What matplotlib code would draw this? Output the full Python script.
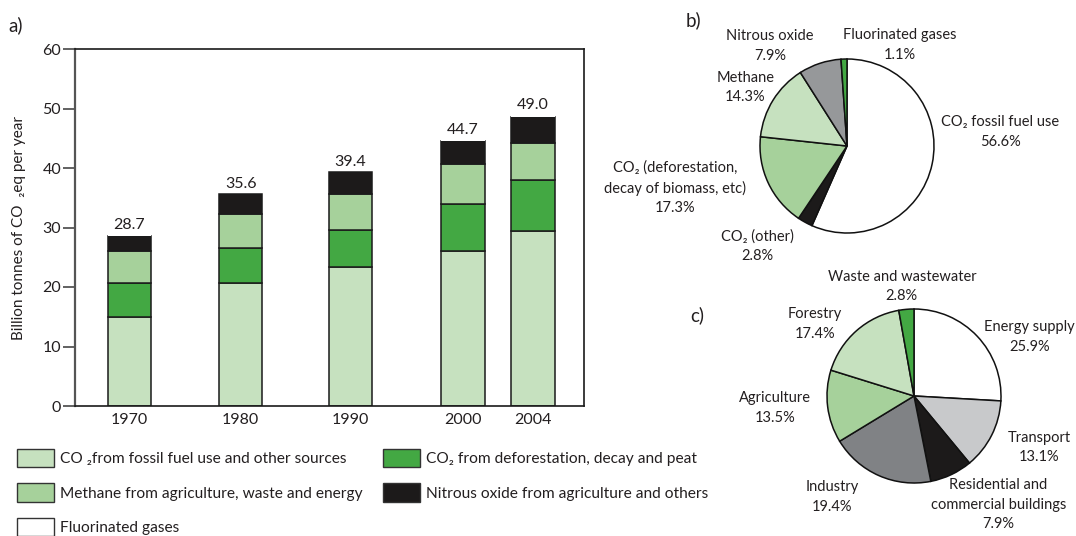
import matplotlib
matplotlib.use("Agg")
import matplotlib.pyplot as plt
from matplotlib.patches import Patch
import numpy as np

plt.rcParams['font.family'] = ['Lato', 'DejaVu Sans']
TXT = '#231f20'

# ---- a) emissions by gas, stacked ----
years = ['1970', '1980', '1990', '2000', '2004']
co2_fossil = [14.9, 20.6, 23.3, 26.1, 29.4]
co2_deforest = [5.7, 5.9, 6.2, 7.9, 8.5]
methane = [5.4, 5.7, 6.2, 6.6, 6.3]
nitrous = [2.5, 3.4, 3.7, 3.9, 4.4]
fluorinated = [0.2, 0.0, 0.0, 0.2, 0.4]

# ---- b) share of gases in 2004 ----
gas_labels = ['CO\u2082 fossil fuel use', 'CO\u2082 (other)',
              'CO\u2082 (deforestation,\ndecay of biomass, etc)',
              'Methane', 'Nitrous oxide', 'Fluorinated gases']
gas_share = [56.6, 2.8, 17.3, 14.3, 7.9, 1.1]

# ---- c) share of sectors in 2004 ----
sector_labels = ['Energy supply', 'Transport',
                 'Residential and\ncommercial buildings', 'Industry',
                 'Agriculture', 'Forestry', 'Waste and wastewater']
sector_share = [25.9, 13.1, 7.9, 19.4, 13.5, 17.4, 2.8]

C_FOSSIL = '#c6e1bf'
C_DEFOR = '#43a843'
C_METH = '#a6d19b'
C_N2O = '#1c1a1a'
C_GREY = '#96989a'
C_LGREY = '#c8c9cb'
C_DGREY = '#808285'

W, H = 1076, 536
fig = plt.figure(figsize=(W / 100, H / 100), dpi=100)


def box(x0, y0, x1, y1):
    return [x0 / W, 1 - y1 / H, (x1 - x0) / W, (y1 - y0) / H]


# bar panel
ax = fig.add_axes(box(75, 49, 584, 406))
bar_pos = np.array([0, 1, 1.99, 3.0, 3.63])
series = [co2_fossil, co2_deforest, methane, nitrous]
colors = [C_FOSSIL, C_DEFOR, C_METH, C_N2O]
bottom = np.zeros(len(years))
for vals, col in zip(series, colors):
    ax.bar(bar_pos, vals, width=0.39, bottom=bottom, color=col,
           edgecolor='#1a1a1a', linewidth=1.1, zorder=2)
    bottom += np.array(vals)
ax.bar(bar_pos, fluorinated, width=0.39, bottom=bottom, color='white',
       edgecolor='none', zorder=2)
totals = bottom + np.array(fluorinated)
for x, t in zip(bar_pos, totals):
    ax.annotate(f'{t:.1f}', (x, t), xytext=(0, 2), textcoords='offset points',
                ha='center', va='bottom', fontsize=11.5, color=TXT)

ax.set_xlim(-0.49, 4.09)
ax.set_ylim(0, 60)
ax.set_yticks(range(0, 61, 10))
ax.set_xticks(bar_pos)
ax.set_xticklabels(years)
ax.tick_params(axis='y', length=9, width=1.3, color='#555555', pad=1,
               labelsize=11.5, labelcolor=TXT)
ax.tick_params(axis='x', length=0, pad=5, labelsize=11.5, labelcolor=TXT)
for s in ['top', 'right', 'bottom']:
    ax.spines[s].set_linewidth(1.2)
    ax.spines[s].set_color('#1a1a1a')
ax.spines['left'].set_linewidth(1.6)
ax.spines['left'].set_color('#555555')
ax.set_ylabel('Billion tonnes of CO  \u2082eq per year', fontsize=11,
              color=TXT, labelpad=12)
fig.text(8 / W, 1 - 25 / H, 'a)', fontsize=13.5, color=TXT, va='center')

# legend, two columns
leg_kw = dict(frameon=False, fontsize=11.2, handlelength=2.35,
              handleheight=1.45, handletextpad=0.4, labelspacing=1.03,
              borderpad=0, borderaxespad=0, loc='upper left')
hp = dict(edgecolor='#333333', linewidth=1.0)
col1 = [Patch(facecolor=C_FOSSIL, **hp), Patch(facecolor=C_METH, **hp),
        Patch(facecolor='white', **hp)]
col1_lab = ['CO \u2082from fossil fuel use and other sources',
            'Methane from agriculture, waste and energy',
            'Fluorinated gases']
col2 = [Patch(facecolor=C_DEFOR, **hp), Patch(facecolor=C_N2O, **hp)]
col2_lab = ['CO\u2082 from deforestation, decay and peat',
            'Nitrous oxide from agriculture and others']
for hs, ls, x0 in [(col1, col1_lab, 17), (col2, col2_lab, 383)]:
    lg = fig.legend(hs, ls, bbox_to_anchor=(x0 / W, 1 - 449 / H), **leg_kw)
    for t in lg.get_texts():
        t.set_color(TXT)


wedge = dict(edgecolor='#111111', linewidth=1.1)
lab_kw = dict(ha='center', va='center', fontsize=10.5, color=TXT,
              linespacing=1.5)


def pie_axes(cx, cy, r, shares, cols):
    a = fig.add_axes(box(cx - 1.1 * r, cy - 1.1 * r, cx + 1.1 * r, cy + 1.1 * r))
    a.pie(shares, colors=cols, startangle=90, counterclock=False, radius=1,
          wedgeprops=wedge)
    a.set_xlim(-1.1, 1.1)
    a.set_ylim(-1.1, 1.1)
    a.set_axis_off()
    return a


# b) pie
axb = pie_axes(847, 146, 87, gas_share,
               ['white', C_N2O, C_METH, C_FOSSIL, C_GREY, C_DEFOR])
b_pos = [(1.76, 0.16), (-1.03, -1.15), (-1.98, -0.48), (-1.17, 0.67),
         (-0.885, 1.15), (0.61, 1.16)]
for lab, v, (x, y) in zip(gas_labels, gas_share, b_pos):
    axb.text(x, y, f'{lab}\n{v:.1f}%', **lab_kw)
axb.text(-1.77, 1.45, 'b)', fontsize=13.5, color=TXT, ha='center', va='center')

# c) pie
axc = pie_axes(914, 396, 87, sector_share,
               ['white', C_LGREY, C_N2O, C_DGREY, C_METH, C_FOSSIL, C_DEFOR])
c_pos = [(1.33, 0.68), (1.44, -0.59), (0.97, -1.25), (-0.94, -1.16),
         (-1.60, -0.14), (-1.14, 0.83), (-0.14, 1.26)]
for lab, v, (x, y) in zip(sector_labels, sector_share, c_pos):
    axc.text(x, y, f'{lab}\n{v:.1f}%', **lab_kw)
axc.text(-2.49, 0.93, 'c)', fontsize=13.5, color=TXT, ha='center', va='center')

fig.savefig('out.png', dpi=100)
